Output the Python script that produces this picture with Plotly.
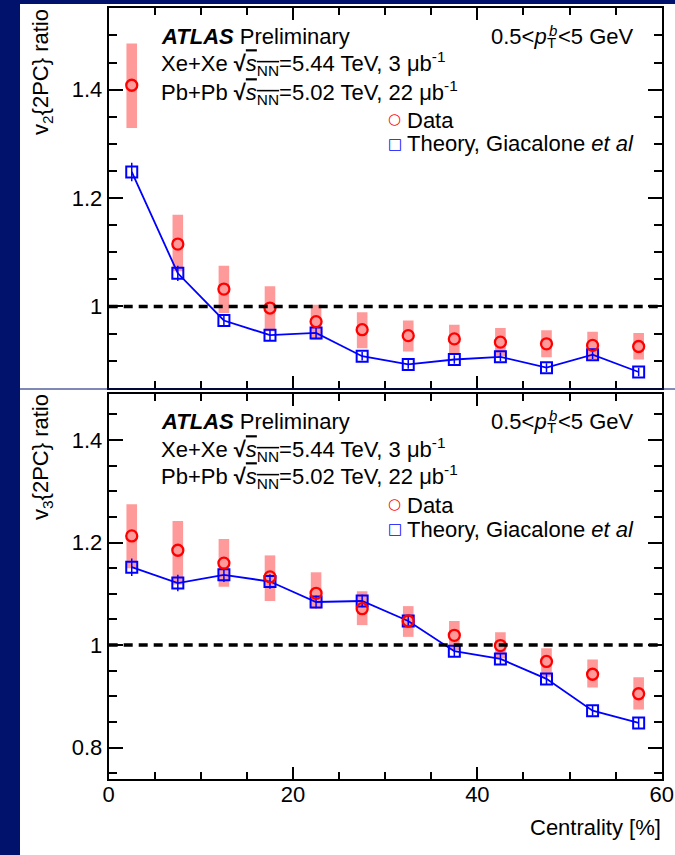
import plotly.graph_objects as go

# ---------------- data ----------------
centrality = [2.5, 7.5, 12.5, 17.5, 22.5, 27.5, 32.5, 37.5, 42.5, 47.5, 52.5, 57.5]

v2_data = [1.408, 1.115, 1.032, 0.997, 0.972, 0.957, 0.946, 0.940, 0.934, 0.931, 0.928, 0.926]
v2_sys_lo = [1.329, 1.065, 0.988, 0.954, 0.939, 0.923, 0.917, 0.913, 0.908, 0.906, 0.903, 0.902]
v2_sys_hi = [1.485, 1.169, 1.075, 1.037, 1.003, 0.989, 0.974, 0.966, 0.960, 0.956, 0.953, 0.951]
v2_theory = [1.248, 1.061, 0.974, 0.947, 0.951, 0.908, 0.893, 0.902, 0.907, 0.887, 0.911, 0.879]
v2_theory_err = [0.017, 0.014, 0.010, 0.010, 0.010, 0.008, 0.008, 0.008, 0.008, 0.008, 0.008, 0.008]

v3_data = [1.213, 1.185, 1.160, 1.133, 1.101, 1.071, 1.047, 1.019, 0.999, 0.968, 0.943, 0.905]
v3_sys_lo = [1.150, 1.118, 1.114, 1.086, 1.071, 1.039, 1.016, 0.990, 0.974, 0.938, 0.917, 0.874]
v3_sys_hi = [1.275, 1.242, 1.207, 1.175, 1.142, 1.105, 1.076, 1.047, 1.025, 0.994, 0.972, 0.937]
v3_theory = [1.152, 1.121, 1.137, 1.124, 1.084, 1.086, 1.047, 0.988, 0.973, 0.934, 0.872, 0.848]
v3_theory_err = [0.017, 0.016, 0.014, 0.014, 0.012, 0.012, 0.010, 0.010, 0.010, 0.010, 0.010, 0.010]

x_range = [0, 60]
v2_range = [0.85, 1.55]
v3_range = [0.738, 1.49]

# ---------------- styling ----------------
W, H = 675, 855
NAVY = "#00126b"
RED = "#ff0000"
BLUE = "#0000ff"
PINK = "#ff9a9a"
FONT = "Liberation Sans, Arial, Helvetica, sans-serif"
FS = 22


def px(x):
    return x / W


def py(y):
    return 1 - y / H


fig = go.Figure()

panels = [
    ("x", "y", v2_data, v2_sys_lo, v2_sys_hi, v2_theory, v2_theory_err),
    ("x2", "y2", v3_data, v3_sys_lo, v3_sys_hi, v3_theory, v3_theory_err),
]

for xa, ya, dat, lo, hi, th, the in panels:
    fig.add_trace(go.Bar(
        x=centrality, y=[h - l for h, l in zip(hi, lo)], base=lo,
        width=1.15, marker=dict(color=PINK, line=dict(width=0)),
        xaxis=xa, yaxis=ya, showlegend=False, hoverinfo="skip"))
    fig.add_trace(go.Scatter(
        x=centrality, y=th, mode="lines+markers",
        line=dict(color=BLUE, width=1.8),
        marker=dict(symbol="square-open", size=11, color=BLUE, line=dict(width=2, color=BLUE)),
        error_y=dict(type="data", array=the, color=BLUE, thickness=1.5, width=0),
        xaxis=xa, yaxis=ya, showlegend=False))
    fig.add_trace(go.Scatter(
        x=centrality, y=dat, mode="markers",
        marker=dict(symbol="circle-open", size=11, color=RED, line=dict(width=2.3, color=RED)),
        xaxis=xa, yaxis=ya, showlegend=False))
    fig.add_shape(type="line", xref=xa, yref=ya, x0=x_range[0], x1=x_range[1], y0=1, y1=1,
                  line=dict(color="black", width=3.5, dash="9px,6px"), layer="above")

xdom = [px(108.7), px(661.7)]
axis_common = dict(
    showline=True, linecolor="black", linewidth=2, mirror="allticks",
    ticks="inside", tickcolor="black", tickwidth=2,
    showgrid=False, zeroline=False, automargin=False,
    tickfont=dict(family=FONT, size=FS, color="black"),
)
xminor = dict(dtick=5, ticklen=7, ticks="inside", tickcolor="black", tickwidth=2)
yminor = dict(dtick=0.05, ticklen=8, ticks="inside", tickcolor="black", tickwidth=2)

fig.update_layout(
    width=W, height=H,
    margin=dict(l=0, r=0, t=0, b=0, autoexpand=False),
    paper_bgcolor="white", plot_bgcolor="white",
    barmode="overlay",
    showlegend=False,
    xaxis=dict(domain=xdom, range=x_range, anchor="y", showticklabels=False,
               tick0=0, dtick=20, ticklen=12, minor=xminor, **axis_common),
    yaxis=dict(domain=[py(387.7), py(8.3)], range=v2_range, anchor="x",
               tick0=0, dtick=0.2, ticklen=14, minor=yminor, **axis_common),
    xaxis2=dict(domain=xdom, range=x_range, anchor="y2", ticklabelstandoff=-6,
                tick0=0, dtick=20, ticklen=12, minor=xminor, **axis_common),
    yaxis2=dict(domain=[py(779.3), py(394)], range=v3_range, anchor="x2",
                tick0=0, dtick=0.2, ticklen=14, minor=yminor, **axis_common),
)

# slide background: navy left strip + top band + separator line
fig.add_shape(type="rect", xref="paper", yref="paper", x0=0, x1=px(20), y0=0, y1=1,
              fillcolor=NAVY, line=dict(width=0), layer="above")
fig.add_shape(type="rect", xref="paper", yref="paper", x0=0, x1=1, y0=py(4), y1=1,
              fillcolor=NAVY, line=dict(width=0), layer="above")
fig.add_shape(type="line", xref="paper", yref="paper", x0=px(20), x1=1, y0=py(389), y1=py(389),
              line=dict(color=NAVY, width=1), layer="above")

SQRT = "<b>√</b><span style='text-decoration:overline'><i>s</i><sub>NN</sub></span>"


def ann(text, x, y, xanchor="left", size=FS, color="black", angle=0, family=FONT):
    fig.add_annotation(text=text, x=px(x), y=py(y), xref="paper", yref="paper",
                       xanchor=xanchor, yanchor="middle", showarrow=False,
                       textangle=angle, borderpad=0,
                       font=dict(family=family, size=size, color=color))


for off, vn in [(0, "2"), (385, "3")]:
    ann("<b><i>ATLAS</i></b> Preliminary", 160, 36 + off)
    ann("Xe+Xe " + SQRT + "=5.44 TeV, 3 μb<sup>-1</sup>", 160, 64 + off)
    ann("Pb+Pb " + SQRT + "=5.02 TeV, 22 μb<sup>-1</sup>", 160, 92 + off)
    ann("0.5&lt;<i>p</i>", 548, 36 + off, xanchor="right")
    ann("<i>b</i>", 548, 30 + off, size=15)
    ann("T", 546, 42 + off, size=15)
    ann("&lt;5 GeV", 557, 36 + off)
    ann("Data", 406, 120 + off)
    ann("Theory, Giacalone <i>et al</i>", 406, 144 + off)
    ann("<b>○</b>", 395, 119 + off, xanchor="center", size=15, color=RED, family="DejaVu Sans")
    ann("□", 395, 144 + off, xanchor="center", size=15, color=BLUE, family="DejaVu Sans")
    ann("v<sub>" + vn + "</sub>{2PC} ratio", 42, 72 + off, xanchor="center", angle=-90)

ann("Centrality [%]", 662, 827, xanchor="right")

fig.write_html("out.html")
